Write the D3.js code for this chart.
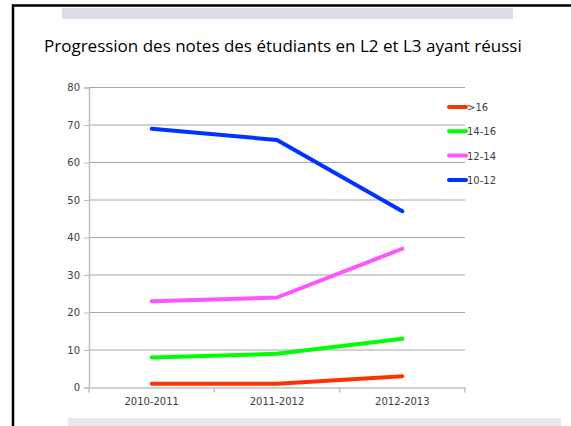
<!DOCTYPE html>
<html>
<head>
<meta charset="utf-8">
<script src="https://cdn.jsdelivr.net/npm/d3@7"></script>
<style>
  body { margin: 0; background: #fff; }
  svg { display: block; }
</style>
</head>
<body>
<div id="chart"></div>
<script>
// data
const years = ["2010-2011", "2011-2012", "2012-2013"];
const seriesNames = [">16", "14-16", "12-14", "10-12"];
const seriesColors = ["#ff3300", "#00ff00", "#ff55ff", "#0033ff"];
const above16 = [1, 1, 3];
const from14to16 = [8, 9, 13];
const from12to14 = [23, 24, 37];
const from10to12 = [69, 66, 47];
const yTicks = [0, 10, 20, 30, 40, 50, 60, 70, 80];

const allSeries = [above16, from14to16, from12to14, from10to12];

const width = 571, height = 426;
const margin = {top: 87.5, right: 106, bottom: 38.5, left: 89};

const svg = d3.select("#chart").append("svg")
  .attr("width", width)
  .attr("height", height);

// slide decorations
svg.append("rect").attr("x", 62).attr("y", 8).attr("width", 451).attr("height", 11).attr("fill", "#e0dbe8");
svg.append("rect").attr("x", 68).attr("y", 418).attr("width", 493).attr("height", 8).attr("fill", "#e9e6ee");
svg.append("path").attr("d", "M13,426V5.5H571").attr("fill", "none").attr("stroke", "#000").attr("stroke-width", 2.5);

// title
svg.append("text")
  .attr("x", 44).attr("y", 52)
  .style("font-family", "'Open Sans', sans-serif")
  .style("font-size", "17px")
  .attr("fill", "#000")
  .text("Progression des notes des étudiants en L2 et L3 ayant réussi");

const x = d3.scaleBand().domain(years).range([margin.left, width - margin.right]);
const y = d3.scaleLinear().domain([0, 80]).range([height - margin.bottom, margin.top]);

// gridlines
svg.append("g").selectAll("line").data(yTicks.filter(d => d > 0)).join("line")
  .attr("x1", margin.left).attr("x2", width - margin.right)
  .attr("y1", d => y(d)).attr("y2", d => y(d))
  .attr("stroke", "#a6a6a6").attr("stroke-width", 1);

const axisFont = "'DejaVu Sans', sans-serif";

// y axis
const yAxis = svg.append("g")
  .attr("transform", `translate(${margin.left},0)`)
  .call(d3.axisLeft(y).tickValues(yTicks).tickSize(5).tickPadding(4));
yAxis.select(".domain").attr("stroke", "#bfbfbf").attr("stroke-width", 1.5);
yAxis.selectAll(".tick line").attr("stroke", "#bfbfbf");
yAxis.selectAll("text").attr("fill", "#404040").style("font-family", axisFont).style("font-size", "10px");

// x axis
const xAxis = svg.append("g")
  .attr("transform", `translate(0,${y(0)})`)
  .call(d3.axisBottom(x).tickSize(0).tickPadding(10));
xAxis.select(".domain").attr("stroke", "#bfbfbf").attr("stroke-width", 1.5);
xAxis.selectAll("text").attr("fill", "#404040").style("font-family", axisFont).style("font-size", "10px");
// tick marks at band boundaries
xAxis.append("g").selectAll("line").data(years.concat(["end"])).join("line")
  .attr("x1", (d, i) => margin.left + i * x.step())
  .attr("x2", (d, i) => margin.left + i * x.step())
  .attr("y1", 0).attr("y2", 5)
  .attr("stroke", "#bfbfbf").attr("stroke-width", 1.5);

// lines
const line = d3.line()
  .x((d, i) => x(years[i]) + x.bandwidth() / 2)
  .y(d => y(d));

svg.append("g").selectAll("path").data(allSeries).join("path")
  .attr("d", line)
  .attr("fill", "none")
  .attr("stroke", (d, i) => seriesColors[i])
  .attr("stroke-width", 4)
  .attr("stroke-linecap", "round")
  .attr("stroke-linejoin", "round");

// legend
const legend = svg.append("g").attr("transform", "translate(449,107)");
const items = legend.selectAll("g").data(seriesNames).join("g")
  .attr("transform", (d, i) => `translate(0,${i * 24.3})`);
items.append("line")
  .attr("x1", 0).attr("x2", 17).attr("y1", 0).attr("y2", 0)
  .attr("stroke", (d, i) => seriesColors[i])
  .attr("stroke-width", 4).attr("stroke-linecap", "round");
items.append("text")
  .attr("x", 18).attr("y", 4)
  .attr("fill", "#404040")
  .style("font-family", axisFont).style("font-size", "10px")
  .text(d => d);
</script>
</body>
</html>
